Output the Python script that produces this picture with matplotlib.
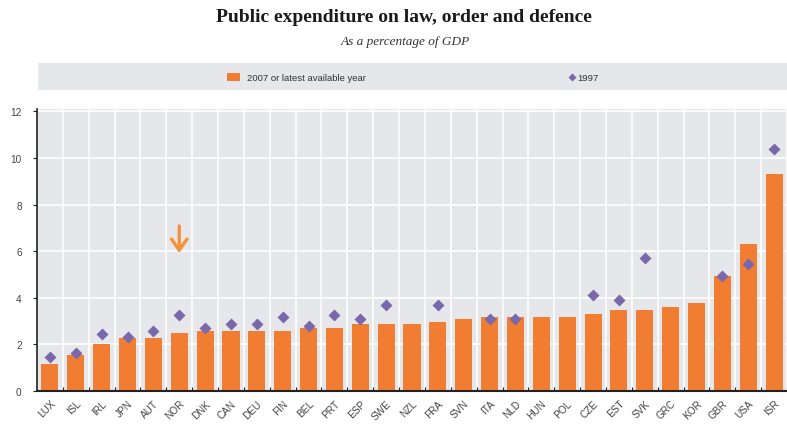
import matplotlib
matplotlib.use("Agg")
import matplotlib.pyplot as plt
from matplotlib.patches import Rectangle
import numpy as np

countries = ["LUX", "ISL", "IRL", "JPN", "AUT", "NOR", "DNK", "CAN", "DEU", "FIN",
             "BEL", "PRT", "ESP", "SWE", "NZL", "FRA", "SVN", "ITA", "NLD", "HUN",
             "POL", "CZE", "EST", "SVK", "GRC", "KOR", "GBR", "USA", "ISR"]
values_2007 = [1.14, 1.53, 2.02, 2.27, 2.27, 2.47, 2.59, 2.59, 2.59, 2.59,
               2.70, 2.70, 2.88, 2.88, 2.87, 2.98, 3.10, 3.18, 3.18, 3.18,
               3.18, 3.30, 3.49, 3.49, 3.59, 3.79, 4.93, 6.29, 9.30]
values_1997 = [1.45, 1.63, 2.46, 2.32, 2.59, 3.27, 2.70, 2.88, 2.88, 3.18,
               2.78, 3.27, 3.10, 3.69, np.nan, 3.69, np.nan, 3.08, 3.08, np.nan,
               np.nan, 4.12, 3.91, 5.71, np.nan, np.nan, 4.94, 5.44, 10.37]
yticks = [0, 2, 4, 6, 8, 10, 12]

ORANGE = "#F07D32"
PURPLE = "#7A68AD"
BG = "#E6E7EA"

W, H = 787, 427
fig = plt.figure(figsize=(W / 100, H / 100), dpi=100)

# legend band
band = fig.add_axes([38 / W, 1 - 91 / H, (W - 38) / W, 27 / H])
band.set_facecolor(BG)
band.set_xlim(0, 1); band.set_ylim(0, 1)
for s in band.spines.values():
    s.set_visible(False)
band.set_xticks([]); band.set_yticks([])

def fx(px):
    return (px - 38) / (W - 38)

band.add_patch(Rectangle((fx(227), 0.33), fx(240) - fx(227), 0.3, color=ORANGE, lw=0))
band.text(fx(247), 0.48, "2007 or latest available year", fontsize=6.8,
          family="Liberation Sans", color="#333333", va="center", ha="left")
band.plot([fx(572)], [0.48], marker="D", ms=4.5, color=PURPLE, mec="none")
band.text(fx(577), 0.48, "1997", fontsize=6.8, family="Liberation Sans",
          color="#333333", va="center", ha="left")

# title
fig.text(404 / W, 1 - 18 / H, "Public expenditure on law, order and defence",
         ha="center", va="center", fontsize=14, fontweight="bold",
         family="Liberation Serif", color="#1a1a1a")
fig.text(405 / W, 1 - 42 / H, "As a percentage of GDP", ha="center", va="center",
         fontsize=9.5, style="italic", family="Liberation Serif", color="#333333")

# main axes
ax = fig.add_axes([37 / W, 1 - 392 / H, (W - 37) / W, (392 - 110) / H])
ax.set_facecolor(BG)
x = np.arange(len(countries))
ax.set_xlim(-0.5, len(countries) - 0.5)
ax.set_ylim(0, 12.1)

for yv in yticks[1:]:
    ax.axhline(yv, color="white", lw=1.2, zorder=1)
for xv in np.arange(-0.5, len(countries), 1.0)[1:]:
    ax.axvline(xv, color="white", lw=1.2, zorder=1)

ax.bar(x, values_2007, width=0.66, color=ORANGE, zorder=2)
ax.plot(x, values_1997, linestyle="none", marker="D", ms=6.5, color=PURPLE,
        mec="none", zorder=3)

ax.annotate("", xy=(5, 5.8), xytext=(5, 7.2),
            arrowprops=dict(arrowstyle="->,head_length=0.5,head_width=0.35",
                            color="#F5913A", lw=2.4, mutation_scale=16), zorder=4)

for side in ["top", "right"]:
    ax.spines[side].set_visible(False)
ax.spines["left"].set_color("#222222")
ax.spines["bottom"].set_color("#222222")
ax.spines["bottom"].set_linewidth(1.5)
ax.spines["left"].set_linewidth(1.2)

ax.set_yticks(yticks)
ax.set_yticklabels([str(v) for v in yticks], fontsize=7.2, family="Liberation Sans",
                   color="#444444")
ax.tick_params(axis="y", length=3, width=0.8, color="#222222", pad=8)

ax.set_xticks(np.arange(-0.5, len(countries), 1.0)[1:], minor=False)
ax.set_xticklabels([])
ax.tick_params(axis="x", length=3, width=0.8, color="#222222", direction="in")
ax.set_xticks(x, minor=True)
ax.set_xticklabels(countries, minor=True, rotation=45, ha="right",
                   rotation_mode="anchor", fontsize=7.2, family="Liberation Sans",
                   color="#444444")
ax.tick_params(axis="x", which="minor", length=0, pad=5)

fig.savefig("out.png", dpi=100, facecolor="white")
